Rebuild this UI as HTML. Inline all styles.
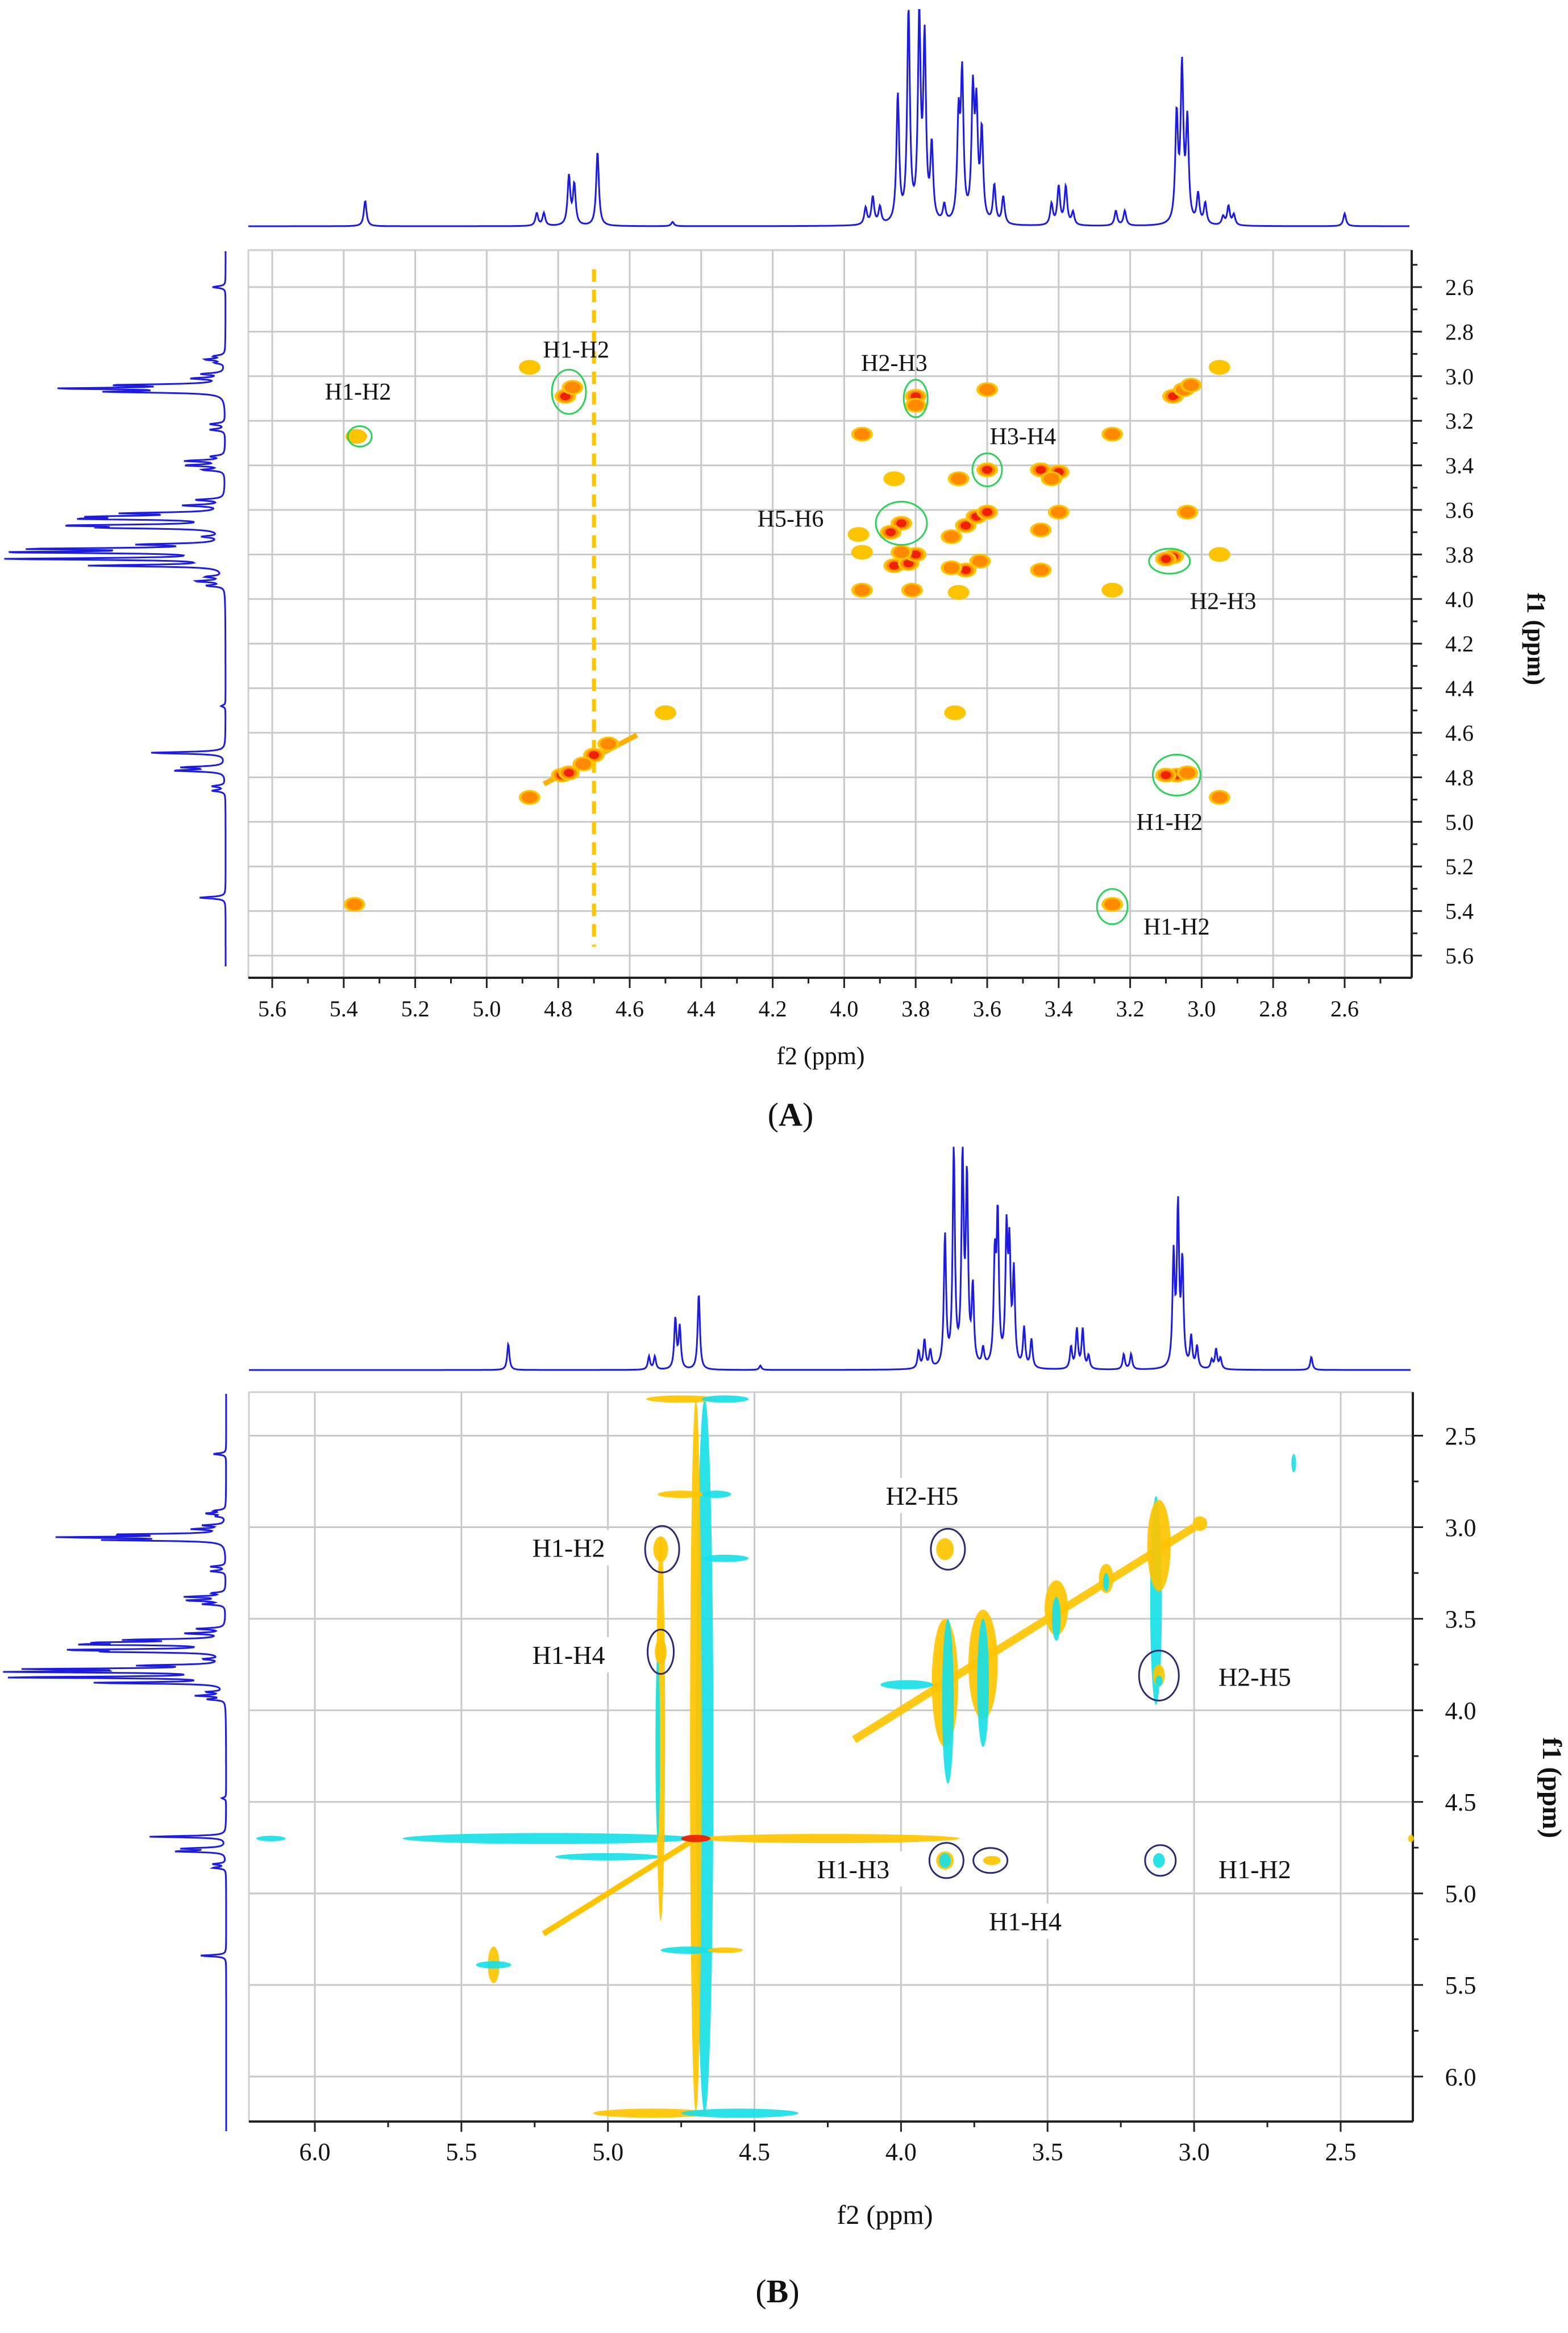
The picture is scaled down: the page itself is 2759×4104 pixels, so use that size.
<!DOCTYPE html>
<html><head><meta charset="utf-8"><title>NMR COSY/TOCSY spectra</title>
<style>
html,body{margin:0;padding:0;background:#fff;}
svg{display:block;}
text{font-family:"Liberation Serif",serif;fill:#111;}
</style></head>
<body>
<svg id="fig" width="2759" height="4104" viewBox="0 0 2759 4104" xmlns="http://www.w3.org/2000/svg">
<rect x="0" y="0" width="2759" height="4104" fill="#fff"/>
<g id="panelA"></g>
<g id="panelB"></g>
<text x="1391" y="1980" font-size="58" text-anchor="middle">(<tspan font-weight="bold">A</tspan>)</text>
<text x="1368" y="4050" font-size="58" text-anchor="middle">(<tspan font-weight="bold">B</tspan>)</text>
</svg>
<script>
// ---- 1D proton spectrum data (ppm, relative height) ----
var specPpm = [5.34,4.86,4.84,4.77,4.755,4.69,4.48,3.94,3.92,3.90,3.85,3.82,3.79,3.775,3.755,3.72,3.68,3.67,3.64,3.63,3.615,3.58,3.555,3.42,3.40,3.38,3.36,3.24,3.215,3.07,3.055,3.04,3.01,2.99,2.94,2.925,2.91,2.60];
var specHeight = [0.12,0.06,0.06,0.23,0.19,0.35,0.02,0.08,0.13,0.08,0.60,1.00,0.95,0.84,0.35,0.08,0.47,0.67,0.59,0.50,0.42,0.18,0.13,0.10,0.18,0.18,0.06,0.07,0.07,0.50,0.72,0.47,0.14,0.10,0.04,0.09,0.05,0.06];

// ---- Panel A cross peaks (f2 ppm, f1 ppm, level 1=yellow 2=orange 3=red) ----
var crossA_f2 = [4.88,4.78,4.76,5.365,5.37,4.88,4.79,4.77,4.50,3.69,3.80,3.80,3.60,3.95,3.25,3.08,3.05,3.03,2.95,3.60,3.68,3.45,3.40,3.42,3.86,3.40,3.04,3.84,3.87,3.66,3.63,3.60,3.70,3.45,3.96,3.95,3.86,3.82,3.80,3.84,3.66,3.70,3.62,3.45,3.08,3.10,2.95,3.95,3.81,3.68,3.25,3.07,3.10,3.04,2.95,3.25,4.70,4.73,4.66];
var crossA_f1 = [2.96,3.09,3.05,3.27,5.37,4.89,4.79,4.78,4.51,4.51,3.09,3.13,3.06,3.26,3.26,3.09,3.06,3.04,2.96,3.42,3.46,3.42,3.43,3.46,3.46,3.61,3.61,3.66,3.70,3.67,3.63,3.61,3.72,3.69,3.71,3.79,3.85,3.84,3.80,3.79,3.87,3.86,3.83,3.87,3.81,3.82,3.80,3.96,3.96,3.97,3.96,4.79,4.79,4.78,4.89,5.37,4.70,4.74,4.65];
var crossA_level = [1,3,2,1,2,2,3,3,1,1,3,2,2,2,2,3,2,2,1,3,2,3,3,2,1,2,2,3,3,3,3,3,2,2,1,1,3,3,3,2,3,2,2,2,3,3,1,2,2,1,1,3,3,2,2,2,3,2,2];
var axisA_xticks = ["5.6","5.4","5.2","5.0","4.8","4.6","4.4","4.2","4.0","3.8","3.6","3.4","3.2","3.0","2.8","2.6"];
var axisA_yticks = ["2.6","2.8","3.0","3.2","3.4","3.6","3.8","4.0","4.2","4.4","4.6","4.8","5.0","5.2","5.4","5.6"];
var circA_f2 = [5.355,4.77,3.80,3.60,3.84,3.09,3.07,3.25];
var circA_f1 = [3.27,3.07,3.10,3.42,3.66,3.83,4.79,5.38];
var labelA_text = ["H1-H2","H1-H2","H2-H3","H3-H4","H5-H6","H2-H3","H1-H2","H1-H2"];
var labelA_f2 = [5.36,4.75,3.86,3.50,4.15,2.94,3.09,3.07];
var labelA_f1 = [3.07,2.88,2.94,3.27,3.64,4.01,5.00,5.47];

// ---- Panel B features (f2 ppm, f1 ppm, half-width ppm, half-height ppm, colour code) ----
var featB_f2 = [4.67,4.70,5.20,4.25,5.00,4.75,4.60,4.85,4.55,4.60,4.75,4.63,4.72,4.60,4.82,4.83,4.82,4.82,3.85,3.85,3.84,3.72,3.72,3.98,3.47,3.47,3.30,3.30,3.13,3.12,2.98,2.66,5.39,5.39,6.15,2.26,3.85,3.85,3.69,3.12,3.12,3.12,4.70];
var featB_f1 = [4.25,4.25,4.70,4.70,4.80,2.30,2.30,6.20,6.20,3.17,2.82,2.82,5.31,5.31,4.10,4.20,3.12,3.68,3.12,3.85,3.95,3.75,3.85,3.86,3.44,3.50,3.28,3.30,3.40,3.10,2.98,2.65,5.39,5.39,4.70,4.70,4.82,4.82,4.82,4.82,3.81,3.84,4.70];
var featB_w = [0.03,0.02,0.50,0.45,0.18,0.12,0.08,0.20,0.20,0.08,0.08,0.05,0.10,0.06,0.015,0.008,0.025,0.02,0.03,0.045,0.02,0.05,0.02,0.09,0.04,0.015,0.025,0.01,0.02,0.04,0.025,0.008,0.02,0.06,0.05,0.01,0.03,0.02,0.03,0.02,0.02,0.012,0.05];
var featB_h = [1.95,1.95,0.03,0.025,0.02,0.02,0.02,0.025,0.025,0.02,0.02,0.02,0.02,0.015,1.05,0.5,0.07,0.07,0.06,0.35,0.45,0.30,0.35,0.025,0.15,0.12,0.08,0.05,0.57,0.25,0.04,0.05,0.1,0.02,0.015,0.02,0.05,0.04,0.025,0.04,0.06,0.03,0.02];
var featB_col = ["c","y","c","y","c","y","c","y","c","c","y","c","c","y","y","c","y","y","y","y","c","y","c","c","y","c","y","c","c","y","y","c","y","c","c","y","y","c","y","c","y","c","r"];
var diagB_f = [4.16,3.00];
var diagB2_f = [5.22,4.70];
var axisB_xticks = ["6.0","5.5","5.0","4.5","4.0","3.5","3.0","2.5"];
var axisB_yticks = ["2.5","3.0","3.5","4.0","4.5","5.0","5.5","6.0"];
var circB_f2 = [4.815,4.82,3.84,3.12,3.845,3.695,3.115];
var circB_f1 = [3.12,3.68,3.12,3.81,4.82,4.82,4.82];
var labelB_text = ["H1-H2","H1-H4","H2-H5","H2-H5","H1-H3","H1-H2","H1-H4"];
var labelB_f2 = [5.134,5.134,3.928,2.793,4.163,2.793,3.576];
var labelB_f1 = [3.115,3.70,2.83,3.82,4.87,4.87,5.155];

var NS = "http://www.w3.org/2000/svg";
function mk(parent, tag, attrs) {
  var e = document.createElementNS(NS, tag);
  for (var k in attrs) e.setAttribute(k, attrs[k]);
  parent.appendChild(e);
  return e;
}
function specVal(p) {
  var s = 0;
  for (var i = 0; i < specPpm.length; i++) {
    var d = (p - specPpm[i]) / 0.0045;
    s += specHeight[i] / (1 + d * d);
  }
  return Math.min(s, 1.02);
}
var colMap = {y: "#ffc400", c: "#19e0e6", r: "#ee1c00", o: "#ff8a00"};

function drawPanel(g, cfg) {
  var xs = cfg.xs, ys = cfg.ys;
  var box = mk(g, "rect", {x: cfg.L, y: cfg.T, width: cfg.R - cfg.L, height: cfg.B - cfg.T, fill: "#fff", stroke: "#cfcfcf", "stroke-width": 3});
  
  
  var gg = mk(g, "g", {});
  
  
  cfg.xticks.forEach(function (t) {
    var x = xs(parseFloat(t));
    mk(gg, "line", {x1: x, x2: x, y1: cfg.T, y2: cfg.B, stroke: "#c9c9c9", "stroke-width": 3});
  });
  cfg.yticks.forEach(function (t) {
    var y = ys(parseFloat(t));
    mk(gg, "line", {x1: cfg.L, x2: cfg.R, y1: y, y2: y, stroke: "#c9c9c9", "stroke-width": 3});
  });
  var ax = mk(g, "g", {});
  
  
  mk(ax, "line", {x1: cfg.L, x2: cfg.R, y1: cfg.B, y2: cfg.B, stroke: "#222", "stroke-width": 4});
  mk(ax, "line", {x1: cfg.R, x2: cfg.R, y1: cfg.T, y2: cfg.B, stroke: "#222", "stroke-width": 4});
  var step = cfg.minor;
  for (var p = cfg.xmin; p <= cfg.xmax + 1e-6; p += step) {
    var x = xs(p);
    if (x < cfg.L || x > cfg.R) continue;
    var major = Math.abs(p / cfg.major - Math.round(p / cfg.major)) < 1e-3;
    mk(ax, "line", {x1: x, x2: x, y1: cfg.B, y2: cfg.B + (major ? 18 : 10), stroke: "#222", "stroke-width": 3});
  }
  for (var q = cfg.ymin; q <= cfg.ymax + 1e-6; q += step) {
    var y = ys(q);
    if (y < cfg.T || y > cfg.B) continue;
    var mj = Math.abs(q / cfg.major - Math.round(q / cfg.major)) < 1e-3;
    mk(ax, "line", {x1: cfg.R, x2: cfg.R + (mj ? 18 : 10), y1: y, y2: y, stroke: "#222", "stroke-width": 3});
  }
  cfg.xticks.forEach(function (t) {
    var tx = mk(ax, "text", {x: xs(parseFloat(t)), y: cfg.B + 68, "font-size": cfg.fs, "text-anchor": "middle"});
    tx.textContent = t;
    
    
  });
  cfg.yticks.forEach(function (t) {
    var ty = mk(ax, "text", {x: cfg.R + 84, y: ys(parseFloat(t)) + cfg.fs * 0.35, "font-size": cfg.fs, "text-anchor": "middle"});
    ty.textContent = t;
    
    
  });
  var xt = mk(ax, "text", {x: cfg.xtX, y: cfg.xtY, "font-size": cfg.fs + 4, "text-anchor": "middle"});
  xt.textContent = "f2 (ppm)";
  
  
  var yt = mk(ax, "text", {x: cfg.ytX, y: cfg.ytY, "font-size": cfg.fs + 4, "text-anchor": "middle", "font-weight": "bold", transform: "rotate(90 " + cfg.ytX + " " + cfg.ytY + ")"});
  yt.textContent = "f1 (ppm)";
  
  

  var d = "";
  for (var px = cfg.L; px <= cfg.R - 4; px += 1) {
    var pp = cfg.xinv(px);
    var yv = cfg.topBase - specVal(pp) * cfg.topH;
    d += (px === cfg.L ? "M" : "L") + px + " " + yv.toFixed(1);
  }
  var top = mk(g, "path", {d: d, fill: "none", stroke: "#1c1ce0", "stroke-width": 3});
  
  
  var d2 = "";
  for (var py = cfg.leftT; py <= cfg.leftB; py += 1) {
    var pq = cfg.yinv(py);
    var xv = cfg.leftBase - specVal(pq) * cfg.leftH;
    d2 += (py === cfg.leftT ? "M" : "L") + xv.toFixed(1) + " " + py;
  }
  var left = mk(g, "path", {d: d2, fill: "none", stroke: "#1c1ce0", "stroke-width": 3});
  
  
}

// ---------- Panel A ----------
var gA = document.getElementById("panelA");
var xA = function (p) { return 479 + (5.6 - p) * 629; };
var yA = function (p) { return 505 + (p - 2.6) * 392; };
drawPanel(gA, {
  xs: xA, ys: yA, L: 437, R: 2484, T: 440, B: 1720,
  xinv: function (x) { return 5.6 - (x - 479) / 629; },
  yinv: function (y) { return 2.6 + (y - 505) / 392; },
  xticks: axisA_xticks, yticks: axisA_yticks, minor: 0.1, major: 0.2,
  xmin: 2.2, xmax: 5.8, ymin: 2.4, ymax: 5.8, fs: 40,
  xtX: 1444, xtY: 1872, ytX: 2688, ytY: 1124,
  topBase: 398, topH: 373, leftBase: 397, leftH: 382, leftT: 442, leftB: 1700
});
var cA = mk(gA, "g", {});


var vl = mk(cA, "line", {x1: xA(4.70), x2: xA(4.70), y1: yA(2.52), y2: yA(5.56), stroke: "#ffc400", "stroke-width": 7, "stroke-dasharray": "22 14"});


var dl = mk(cA, "line", {x1: xA(4.84), x2: xA(4.58), y1: yA(4.83), y2: yA(4.61), stroke: "#ffb000", "stroke-width": 9});


for (var i = 0; i < crossA_f2.length; i++) {
  var cx = xA(crossA_f2[i]), cy = yA(crossA_f1[i]), lv = crossA_level[i];
  var pk = mk(cA, "g", {});
  
  
  mk(pk, "ellipse", {cx: cx, cy: cy, rx: 19, ry: 13, fill: "#ffc400"});
  if (lv >= 2) mk(pk, "ellipse", {cx: cx, cy: cy, rx: 14, ry: 10, fill: "#ff8a00"});
  if (lv >= 3) mk(pk, "ellipse", {cx: cx, cy: cy, rx: 9, ry: 7, fill: "#ee2200"});
}
var raA = [21, 30, 21, 26, 45, 36, 42, 27];
var rbA = [18, 39, 33, 29, 38, 22, 36, 31];
for (var j = 0; j < circA_f2.length; j++) {
  var ce = mk(gA, "ellipse", {cx: xA(circA_f2[j]), cy: yA(circA_f1[j]), rx: raA[j], ry: rbA[j], fill: "none", stroke: "#2ed05a", "stroke-width": 3});
  
  
}
for (var k = 0; k < labelA_text.length; k++) {
  var lt = mk(gA, "text", {x: xA(labelA_f2[k]), y: yA(labelA_f1[k]) + 14, "font-size": 42, "text-anchor": "middle"});
  lt.textContent = labelA_text[k];
  
  
}

// ---------- Panel B ----------
var gB = document.getElementById("panelB");
var xB = function (p) { return 554 + (6.0 - p) * 515.7; };
var yB = function (p) { return 2525.5 + (p - 2.5) * 322.1; };
drawPanel(gB, {
  xs: xB, ys: yB, L: 438, R: 2486, T: 2449, B: 3732,
  xinv: function (x) { return 6.0 - (x - 554) / 515.7; },
  yinv: function (y) { return 2.5 + (y - 2525.5) / 322.1; },
  xticks: axisB_xticks, yticks: axisB_yticks, minor: 0.25, major: 0.5,
  xmin: 2.0, xmax: 6.5, ymin: 2.0, ymax: 6.5, fs: 44,
  xtX: 1557, xtY: 3912, ytX: 2715, ytY: 3145,
  topBase: 2410, topH: 385, leftBase: 398, leftH: 385, leftT: 2452, leftB: 3749
});
var cB = mk(gB, "g", {});


var dg = mk(cB, "line", {x1: xB(diagB_f[0]), y1: yB(diagB_f[0]), x2: xB(diagB_f[1]), y2: yB(diagB_f[1]), stroke: "#ffc400", "stroke-width": 14, opacity: 0.9});


var dg2 = mk(cB, "line", {x1: xB(diagB2_f[0]), y1: yB(diagB2_f[0]), x2: xB(diagB2_f[1]), y2: yB(diagB2_f[1]), stroke: "#ffc400", "stroke-width": 10});


for (var m = 0; m < featB_f2.length; m++) {
  var fe = mk(cB, "ellipse", {
    cx: xB(featB_f2[m]), cy: yB(featB_f1[m]),
    rx: Math.max(3, featB_w[m] * 515.7), ry: Math.max(3, featB_h[m] * 322.1),
    fill: colMap[featB_col[m]], opacity: 0.92
  });
  
  
}
for (var r = 0; r < labelB_text.length; r++) {
  var bx = xB(labelB_f2[r]), by = yB(labelB_f1[r]);
  var bg = mk(gB, "rect", {x: bx - 95, y: by - 32, width: 190, height: 62, fill: "#fff"});
  
  
  var lb = mk(gB, "text", {x: bx, y: by + 15, "font-size": 46, "text-anchor": "middle"});
  lb.textContent = labelB_text[r];
  
  
}
var rb = [30, 23, 30, 35, 30, 30, 27];
var rby = [41, 39, 36, 44, 31, 22, 27];
for (var n = 0; n < circB_f2.length; n++) {
  var cb = mk(gB, "ellipse", {cx: xB(circB_f2[n]), cy: yB(circB_f1[n]), rx: rb[n], ry: rby[n], fill: "none", stroke: "#2a2a70", "stroke-width": 3});
  
  
}
</script>
</body></html>
